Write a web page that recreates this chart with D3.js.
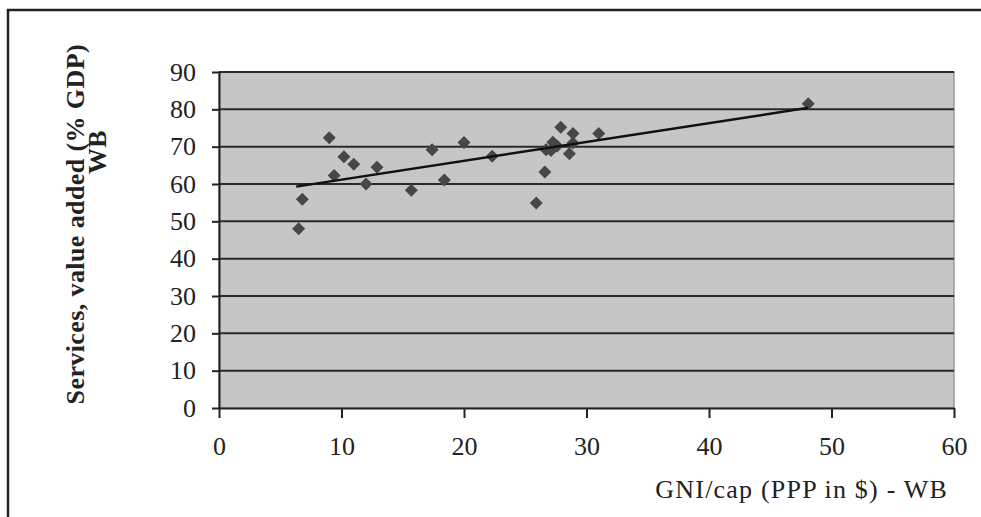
<!DOCTYPE html>
<html lang="en">
<head>
    <meta charset="UTF-8">
    <title>Services vs GNI/cap</title>
    <style>
        body {
            margin: 0;
            background: #fff;
            font-family: "Liberation Serif", "DejaVu Serif", serif;
        }
        .tick text {
            font-family: "Liberation Serif", serif;
            font-size: 26px;
            fill: #222;
        }
        .axis-title {
            font-family: "Liberation Serif", serif;
            font-size: 26px;
            fill: #222;
        }
    </style>
</head>
<body>
    <svg id="chart" width="981" height="517"></svg>
    <script src="https://d3js.org/d3.v7.min.js"></script>
    <script>
        // GNI per capita (thousand $ PPP) and services share of GDP
        const gniCap = [6.5, 6.8, 9.0, 9.4, 10.2, 11.0, 12.0, 12.9, 15.7, 17.4, 18.4, 20.0, 22.3,
                        25.9, 26.6, 26.7, 27.1, 27.25, 27.6, 27.9, 28.6, 28.9, 28.9, 31.0, 48.1];
        const services = [48.0, 55.9, 72.4, 62.3, 67.3, 65.3, 60.0, 64.5, 58.3, 69.2, 61.1, 71.1, 67.4,
                          54.9, 63.2, 69.2, 69.0, 71.2, 70.2, 75.2, 68.1, 71.0, 73.5, 73.5, 81.5];
        // linear trendline ends as drawn
        const trendX = [6.3, 48.1];
        const trendY = [59.3, 80.4];

        const xTicks = [0, 10, 20, 30, 40, 50, 60];
        const yTicks = [0, 10, 20, 30, 40, 50, 60, 70, 80, 90];

        const svg = d3.select("#chart");

        // outer frame (only left and top visible in the crop)
        svg.append("path")
            .attr("d", "M8,520 L8,10 L985,10")
            .attr("fill", "none")
            .attr("stroke", "#222")
            .attr("stroke-width", 2.5);

        const plot = { left: 219, right: 954, top: 72, bottom: 408 };

        const x = d3.scaleLinear().domain([0, 60]).range([plot.left, plot.right]);
        const y = d3.scaleLinear().domain([0, 90]).range([plot.bottom, plot.top]);

        // plot background
        svg.append("rect")
            .attr("x", plot.left)
            .attr("y", plot.top)
            .attr("width", plot.right - plot.left)
            .attr("height", plot.bottom - plot.top)
            .attr("fill", "#c6c6c6")
            .attr("stroke", "#9a9a9a")
            .attr("stroke-width", 1.5);

        // gridlines
        svg.append("g")
            .selectAll("line")
            .data(yTicks.filter(d => d > 0))
            .join("line")
            .attr("x1", plot.left)
            .attr("x2", plot.right)
            .attr("y1", d => y(d))
            .attr("y2", d => y(d))
            .attr("stroke", "#2a2a2a")
            .attr("stroke-width", 2);

        const yAxis = d3.axisLeft(y).tickValues(yTicks).tickSize(7).tickPadding(16).tickSizeOuter(0);
        const gy = svg.append("g")
            .attr("transform", `translate(${plot.left},0)`)
            .call(yAxis);
        gy.select(".domain").attr("stroke", "#222").attr("stroke-width", 2);
        gy.selectAll(".tick line").attr("stroke", "#222").attr("stroke-width", 2);

        const xAxis = d3.axisBottom(x).tickValues(xTicks).tickSize(10).tickPadding(19).tickSizeOuter(0);
        const gx = svg.append("g")
            .attr("transform", `translate(0,${plot.bottom})`)
            .call(xAxis);
        gx.select(".domain").attr("stroke", "#222").attr("stroke-width", 2);
        gx.selectAll(".tick line").attr("stroke", "#222").attr("stroke-width", 2);

        // points as diamonds
        const pts = gniCap.map((g, i) => ({ g: g, s: services[i] }));
        svg.append("g")
            .selectAll("path")
            .data(pts)
            .join("path")
            .attr("transform", d => `translate(${x(d.g)},${y(d.s)})`)
            .attr("d", "M0,-6.5L6.5,0L0,6.5L-6.5,0Z")
            .attr("fill", "#474747");

        // trendline
        svg.append("line")
            .attr("x1", x(trendX[0]))
            .attr("y1", y(trendY[0]))
            .attr("x2", x(trendX[1]))
            .attr("y2", y(trendY[1]))
            .attr("stroke", "#111")
            .attr("stroke-width", 2.5);

        // axis titles
        svg.append("text")
            .attr("class", "axis-title")
            .attr("text-anchor", "end")
            .attr("x", 948)
            .attr("y", 498)
            .attr("letter-spacing", 1.2)
            .text("GNI/cap (PPP in $) - WB");

        const yTitle = svg.append("text")
            .attr("class", "axis-title")
            .attr("font-weight", "bold")
            .attr("letter-spacing", 0.4)
            .attr("transform", "rotate(-90)");
        yTitle.append("tspan")
            .attr("text-anchor", "end")
            .attr("x", -44)
            .attr("y", 84)
            .text("Services, value added (% GDP)");
        yTitle.append("tspan")
            .attr("text-anchor", "middle")
            .attr("x", -152)
            .attr("y", 106)
            .text("WB");
    </script>
</body>
</html>
